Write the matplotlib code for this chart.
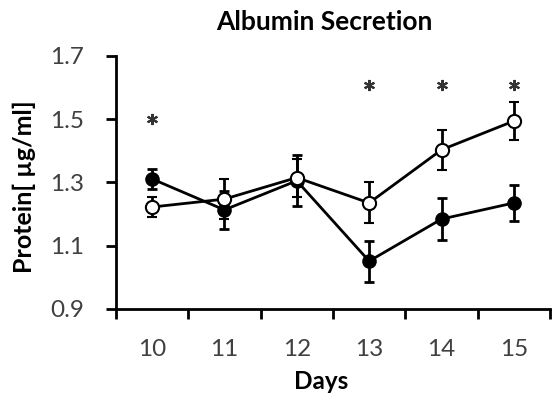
import numpy as np
import matplotlib
matplotlib.use("Agg")
import matplotlib.pyplot as plt

plt.rcParams['font.family'] = ['Lato', 'DejaVu Sans']

days = ["10", "11", "12", "13", "14", "15"]
black = [1.311, 1.213, 1.305, 1.051, 1.184, 1.235]
black_err = [0.032, 0.060, 0.080, 0.065, 0.065, 0.058]
white = [1.222, 1.247, 1.315, 1.235, 1.403, 1.494]
white_err = [0.033, 0.063, 0.060, 0.065, 0.063, 0.060]
star_days = [0, 3, 4, 5]
star_y = [1.50, 1.608, 1.608, 1.608]

x = np.arange(len(days))

fig = plt.figure(figsize=(5.54, 3.96), dpi=100)
ax = fig.add_axes([0.209, 0.220, 0.784, 0.639])

ax.errorbar(x, black, yerr=black_err, color="black", lw=2, marker="o",
            ms=9.5, mfc="black", mec="black", elinewidth=2, capsize=3.5,
            capthick=2, zorder=3)
ax.errorbar(x, white, yerr=white_err, color="black", lw=2, marker="o",
            ms=9.5, mfc="white", mec="black", mew=1.5, elinewidth=2,
            capsize=3.5, capthick=2, zorder=4)

# significance stars
ax.plot(star_days, star_y, ls="none", marker=(6, 2, 0), ms=8, mew=1.5,
        color="#333333")

ax.set_xlim(-0.5, 5.5)
ax.set_ylim(0.9, 1.7)
ax.set_yticks([0.9, 1.1, 1.3, 1.5, 1.7])
ax.set_yticklabels(["0.9", "1.1", "1.3", "1.5", "1.7"])
ax.set_xticks(np.arange(-0.5, 6.0, 1.0))
ax.set_xticklabels([])
ax.set_xticks(x, minor=True)
ax.set_xticklabels(days, minor=True)
ax.tick_params(axis="x", which="major", length=7, width=2, direction="out")
ax.tick_params(axis="x", which="minor", length=0, pad=22)
ax.tick_params(axis="y", length=7, width=2, direction="out", pad=16)
ax.tick_params(which="both", labelsize=17.5, labelcolor="#404040")

for s in ["top", "right"]:
    ax.spines[s].set_visible(False)
for s in ["left", "bottom"]:
    ax.spines[s].set_linewidth(2)

fig.text(0.585, 0.924, "Albumin Secretion", ha="center", va="baseline",
         fontsize=19, fontweight="bold")
fig.text(0.58, 0.018, "Days", ha="center", va="baseline",
         fontsize=17.5, fontweight="bold")
fig.text(0.043, 0.528, "Protein[ µg/ml]", ha="center", va="center",
         rotation=90, fontsize=18, fontweight="bold")

fig.savefig("out.png", dpi=100)
